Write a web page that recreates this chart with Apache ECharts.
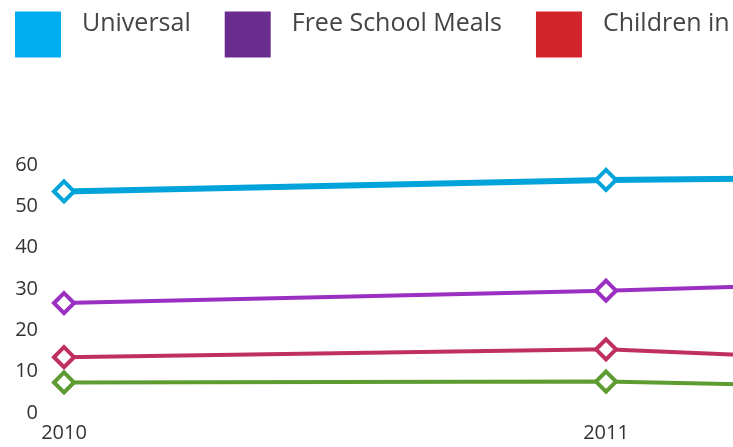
<!DOCTYPE html>
<html>
<head>
<meta charset="utf-8">
<script src="https://cdn.jsdelivr.net/npm/echarts@6/dist/echarts.min.js"></script>
<style>
  html, body { margin: 0; padding: 0; overflow: hidden; background: #fff; }
  #chart { width: 1200px; height: 447px; }
</style>
</head>
<body>
<div id="chart"></div>
<script>
// x categories (the chart is cropped: 2012 sits past the right edge)
const years = ['2010', '2011', '2012']
const universal = [53.6, 56.4, 57.6]
const freeSchoolMeals = [26.6, 29.6, 33.5]
const childrenInCare = [13.5, 15.4, 9.9]
const other = [7.4, 7.6, 4.9]
const yTicks = [0, 60, 10] // min, max, interval

const names = ['Universal', 'Free School Meals', 'Children in Care', 'Other']
const lineColors = ['#00a3da', '#9b2fc1', '#c0305e', '#5e9c32']
const legendColors = ['#00aeef', '#6b2c8f', '#d2232a', '#5e9c32']
const values = [universal, freeSchoolMeals, childrenInCare, other]
const font = '"Open Sans", "Noto Sans", sans-serif'

const chart = echarts.init(document.getElementById('chart'), null, { renderer: 'canvas' })

const series = names.map((n, i) => ({
  name: n, type: 'line',
  data: values[i],
  symbol: 'diamond', symbolSize: 20,
  lineStyle: { color: lineColors[i], width: i === 0 ? 6 : 4 },
  itemStyle: { color: '#fff', borderColor: lineColors[i], borderWidth: 4 },
  emphasis: { disabled: true },
  z: 10 - i,
}))

chart.setOption({
  animation: false,
  backgroundColor: '#fff',
  textStyle: { fontFamily: font },
  legend: {
    left: 15, top: 11, padding: 0,
    icon: 'rect', itemWidth: 46, itemHeight: 46, itemGap: 34,
    data: names.map((n, i) => ({ name: n, itemStyle: { color: legendColors[i], borderWidth: 0 } })),
    // empty second line pushes the label up to the top of the square
    formatter: '{name}\n ',
    textStyle: { fontSize: 25, lineHeight: 22, color: '#444', fontFamily: font, padding: [0, 0, 0, 16] },
  },
  grid: { left: 64, right: 52, top: 165, bottom: 34 },
  xAxis: {
    type: 'category', data: years, boundaryGap: false,
    axisLine: { show: false }, axisTick: { show: false },
    axisLabel: { color: '#333', fontSize: 20, margin: 10, fontFamily: font },
  },
  yAxis: {
    type: 'value', min: yTicks[0], max: yTicks[1], interval: yTicks[2],
    axisLine: { show: false }, axisTick: { show: false }, splitLine: { show: false },
    axisLabel: { color: '#333', fontSize: 20, margin: 26, fontFamily: font },
  },
  series,
})
</script>
</body>
</html>
